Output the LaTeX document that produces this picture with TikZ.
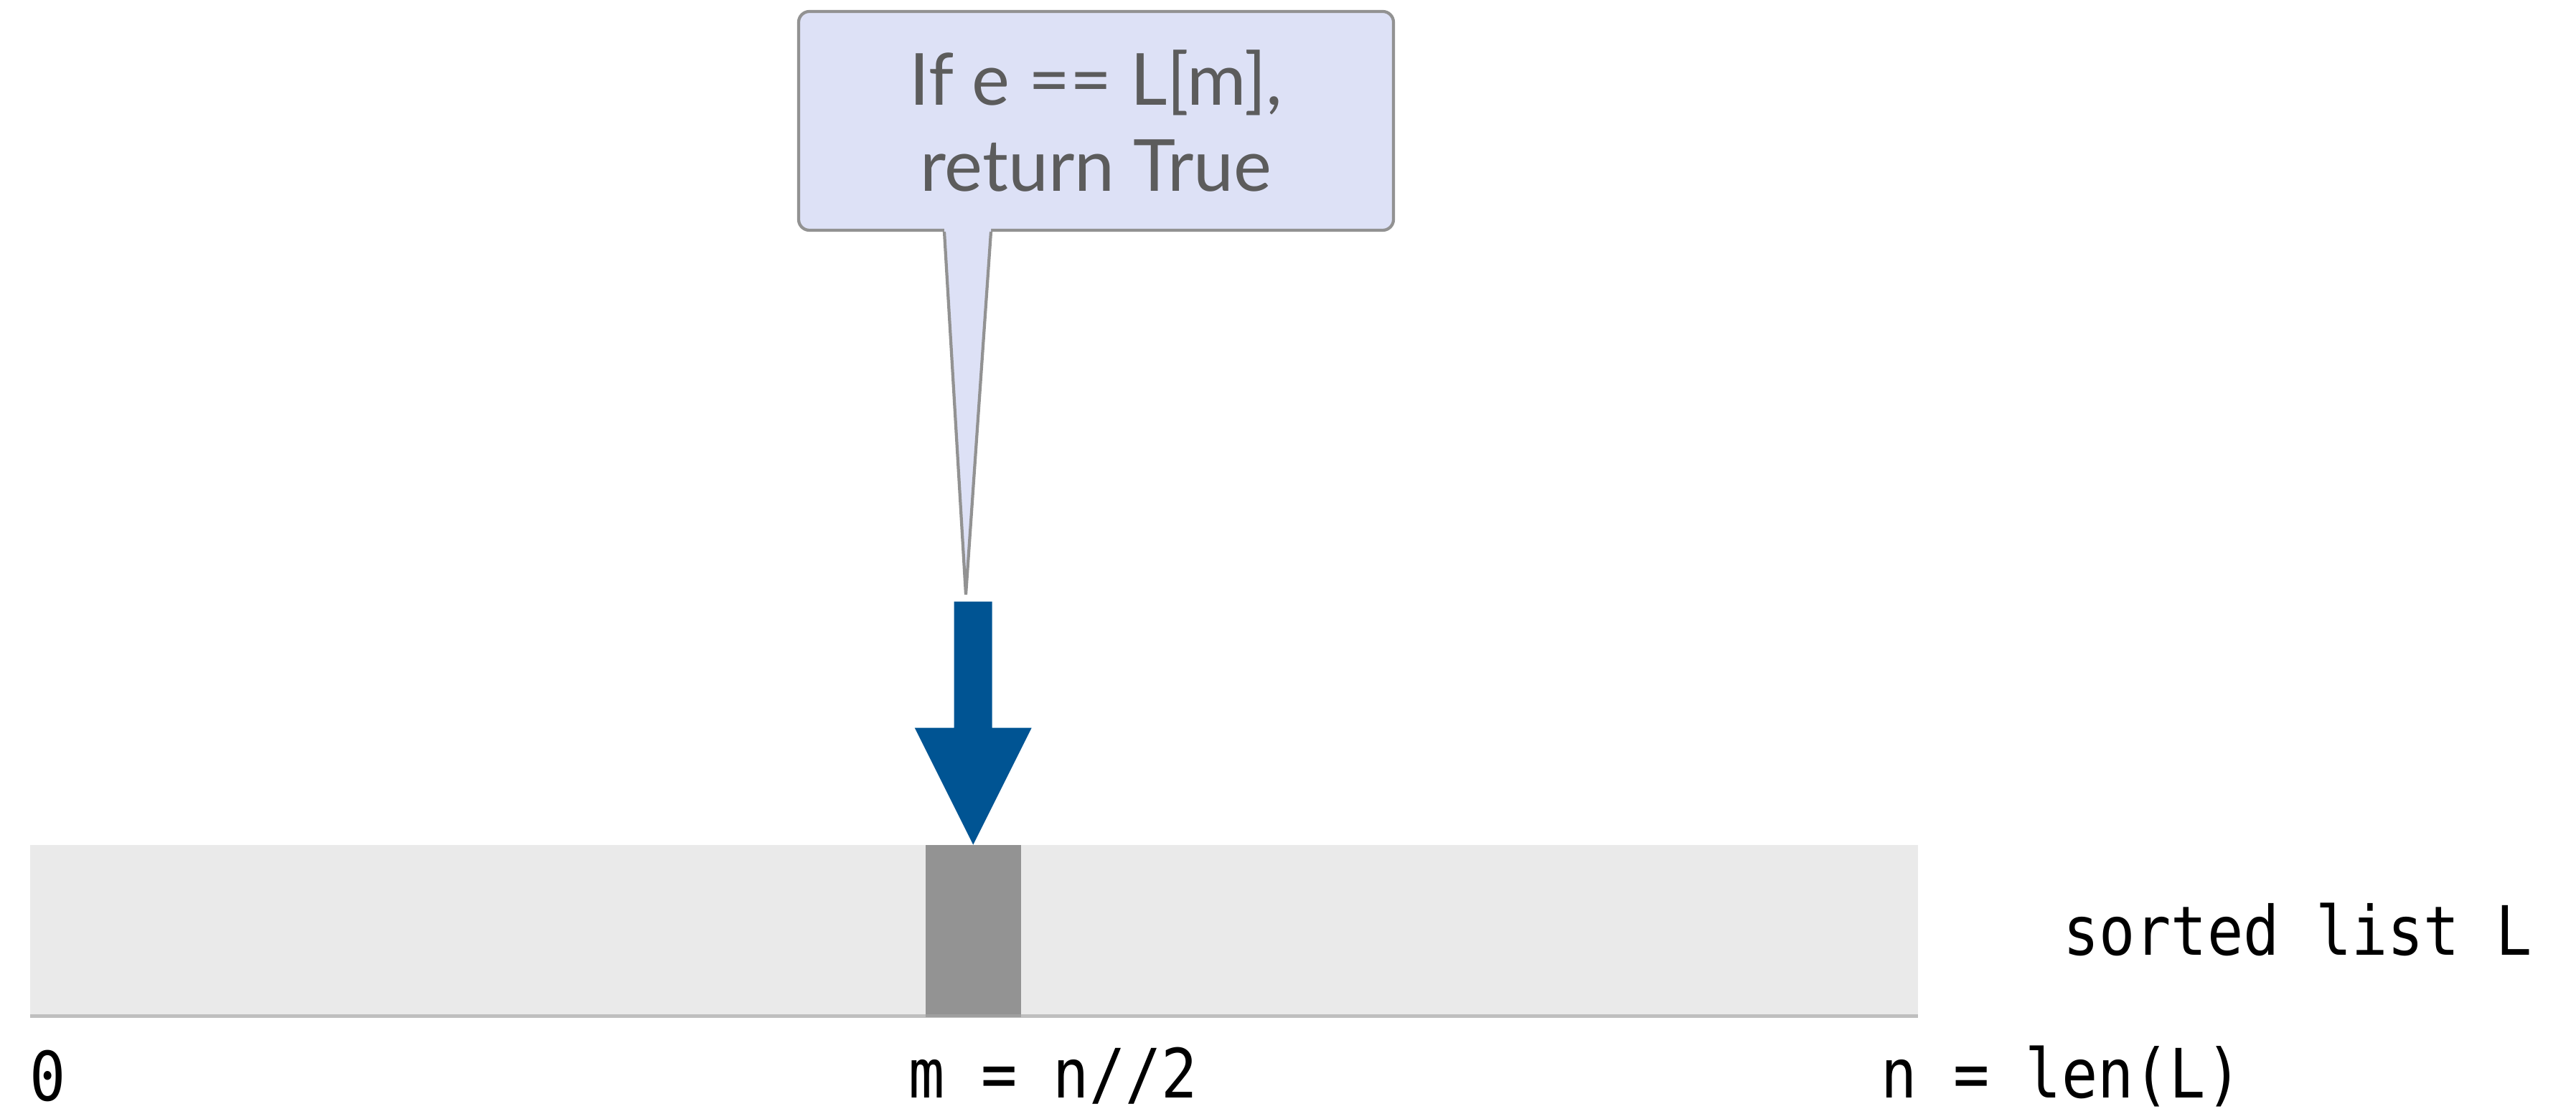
\documentclass[tikz,border=0pt]{standalone}
\usepackage{fontspec}
\setmainfont{Lato}
\newfontfamily\codefont[FakeStretch=0.88]{DejaVu Sans Mono}
\usetikzlibrary{shadows,positioning,calc}

\definecolor{notefill}{RGB}{221,225,246}
\definecolor{noteline}{RGB}{146,146,146}
\definecolor{notetext}{RGB}{92,92,92}
\definecolor{probeblue}{RGB}{0,84,147}
\definecolor{listgray}{RGB}{234,234,234}
\definecolor{cellgray}{RGB}{147,147,147}

\begin{document}
\begin{tikzpicture}[
  listbar/.style={fill=listgray, inner sep=0pt, anchor=south west,
    drop shadow={shadow xshift=0pt, shadow yshift=-0.05cm, opacity=0.5}},
  midcell/.style={fill=cellgray, inner sep=0pt, anchor=south west,
    drop shadow={shadow xshift=0pt, shadow yshift=-0.04cm, opacity=0.5}},
  notebox/.style={fill=notefill, draw=noteline, line width=1.2pt, rounded corners=0.15cm,
    minimum width=8.29cm, minimum height=3.05cm, align=center, text=notetext,
    font=\fontsize{28.5}{34}\selectfont},
  codelabel/.style={inner sep=0pt, anchor=west, font=\codefont\fontsize{27}{30}\selectfont}
]
% canvas: 1 cm = 100 px of the 3590 x 1553 reference
\useasboundingbox (0,0) rectangle (35.9,15.53);

% the sorted list and its middle element
\node[listbar, minimum width=26.31cm, minimum height=2.36cm] (list) at (0.41,1.38) {};
\node[midcell, minimum width=1.33cm, minimum height=2.36cm] (mid) at (12.89,1.38) {};
\node[codelabel, right=2.01cm of list] (lname) {sorted list L};

% index labels under the list
\node[codelabel] (zero) at (0.41,0.53) {0};
\node[codelabel] (half) at (12.66,0.53) {m = n//2};
\node[codelabel] (len) at (26.21,0.53) {n = len(L)};

% blue probe arrow onto L[m]
\fill[probeblue] (mid.north) -- ++(-0.815,1.63) -- ++(0.55,0) -- ++(0,1.76)
  -- ++(0.53,0) -- ++(0,-1.76) -- ++(0.55,0) -- cycle;

% speech bubble
\node[notebox] (note) at (15.275,13.845) {If e == L[m],\\return True};
\coordinate (tip) at (13.46,7.24);
\fill[notefill] ($(note.south)+(-2.115,0.06)$) -- ($(note.south)+(-2.115,0)$) -- (tip)
  -- ($(note.south)+(-1.465,0)$) -- ($(note.south)+(-1.465,0.06)$) -- cycle;
\draw[noteline, line width=1.2pt] ($(note.south)+(-2.115,0)$) -- (tip) -- ($(note.south)+(-1.465,0)$);
\end{tikzpicture}
\end{document}
